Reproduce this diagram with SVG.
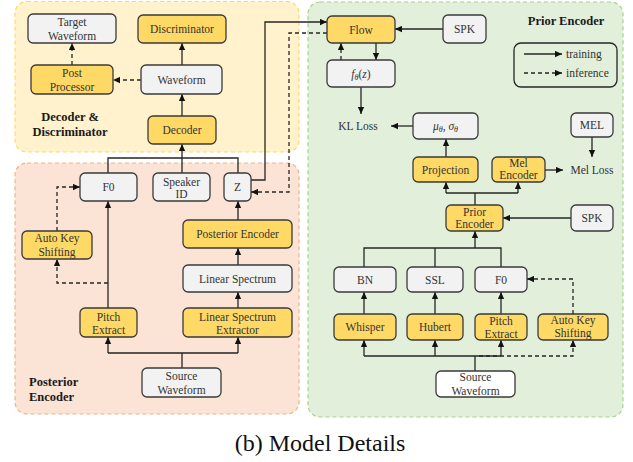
<svg xmlns="http://www.w3.org/2000/svg" width="633" height="462" viewBox="0 0 633 462">
<style>
text{font-family:"Liberation Serif","Times New Roman","DejaVu Serif",serif}
.t{font-size:11.5px;fill:#333;text-anchor:middle}
.s{font-size:11.5px;fill:#333;text-anchor:start}
.b{font-size:12.5px;font-weight:bold;fill:#1a1a1a}
.y{fill:#FFD966;stroke:#3a3a3a;stroke-width:1.3}
.g{fill:#F2F2F2;stroke:#3a3a3a;stroke-width:1.3}
.w{fill:#FFFFFF;stroke:#3a3a3a;stroke-width:1.3}
.c{fill:none;stroke:#262626;stroke-width:1.3}
.d{fill:none;stroke:#262626;stroke-width:1.3;stroke-dasharray:4,3}
</style>
<defs>
<marker id="a" viewBox="0 0 10 10" refX="10" refY="5" markerWidth="7" markerHeight="7" markerUnits="userSpaceOnUse" orient="auto">
<path d="M0,0.5 L10,5 L0,9.5 z" fill="#111"/>
</marker>
</defs>
<rect width="633" height="462" fill="#fff"/>
<g id="panels">
<rect x="15" y="1.5" width="284" height="150.5" rx="12" fill="#FFF2CC" stroke="#FFD966" stroke-width="1.2" stroke-dasharray="4,3"/>
<rect x="15" y="163" width="284" height="251" rx="12" fill="#FBE3D6" stroke="#F4B183" stroke-width="1.2" stroke-dasharray="4,3"/>
<rect x="308" y="2" width="315" height="415" rx="12" fill="#E2EFDA" stroke="#A9D18E" stroke-width="1.2" stroke-dasharray="4,3"/>
<text class="b" x="70" y="121" text-anchor="middle">Decoder &amp;</text>
<text class="b" x="70" y="136" text-anchor="middle">Discriminator</text>
<text class="b" x="29" y="386">Posterior</text>
<text class="b" x="29" y="401">Encoder</text>
<text class="b" x="566" y="25" text-anchor="middle">Prior Encoder</text>
</g>
<g id="connectors">
<path class="c" d="M182,65 V43" marker-end="url(#a)"/>
<path class="c" d="M182,116 V94" marker-end="url(#a)"/>
<path class="d" d="M141,80 H113" marker-end="url(#a)"/>
<path class="d" d="M72,65 V43" marker-end="url(#a)"/>
<path class="c" d="M182,173 V144" marker-end="url(#a)"/>
<path class="c" d="M108,173 V158 H238 V173"/>
<path class="c" d="M182,368 V353 M108,353 H238"/>
<path class="c" d="M108,353 V337" marker-end="url(#a)"/>
<path class="c" d="M238,353 V337" marker-end="url(#a)"/>
<path class="c" d="M108,308 V201" marker-end="url(#a)"/>
<path class="d" d="M108,283 H57 V259" marker-end="url(#a)"/>
<path class="d" d="M57,231 V187 H80" marker-end="url(#a)"/>
<path class="c" d="M238,308 V292" marker-end="url(#a)"/>
<path class="c" d="M238,265 V248" marker-end="url(#a)"/>
<path class="c" d="M238,220 V201" marker-end="url(#a)"/>
<path class="c" d="M251,180 H265 V22 H327" marker-end="url(#a)"/>
<path class="d" d="M327,33 H289 V192 H251" marker-end="url(#a)"/>
<path class="c" d="M443,29 H395" marker-end="url(#a)"/>
<path class="c" d="M376,43 V60" marker-end="url(#a)"/>
<path class="d" d="M341,60 V43" marker-end="url(#a)"/>
<path class="c" d="M361,87 V114" marker-end="url(#a)"/>
<path class="c" d="M413,126 H391" marker-end="url(#a)"/>
<path class="c" d="M592,137 V157" marker-end="url(#a)"/>
<path class="c" d="M545,170 H563" marker-end="url(#a)"/>
<path class="c" d="M446,157 V139" marker-end="url(#a)"/>
<path class="c" d="M475,205 V193 M446,193 H518"/>
<path class="c" d="M446,193 V182" marker-end="url(#a)"/>
<path class="c" d="M518,193 V182" marker-end="url(#a)"/>
<path class="c" d="M571,218 H503" marker-end="url(#a)"/>
<path class="c" d="M364,267 V248 H501 V267 M435,267 V248"/>
<path class="c" d="M475,248 V231" marker-end="url(#a)"/>
<path class="c" d="M364,314 V292" marker-end="url(#a)"/>
<path class="c" d="M435,314 V292" marker-end="url(#a)"/>
<path class="c" d="M501,314 V292" marker-end="url(#a)"/>
<path class="c" d="M475,371 V356 M364,356 H501"/>
<path class="c" d="M364,356 V340" marker-end="url(#a)"/>
<path class="c" d="M435,356 V340" marker-end="url(#a)"/>
<path class="c" d="M501,356 V340" marker-end="url(#a)"/>
<path class="d" d="M479,356 H573 V340" marker-end="url(#a)"/>
<path class="d" d="M573,314 V279 H527" marker-end="url(#a)"/>
</g>
<g id="target-waveform"><rect class="g" x="28" y="14" width="88" height="29" rx="5"/><text class="t" x="72" y="26">Target</text><text class="t" x="72" y="40">Waveform</text></g>
<g id="discriminator"><rect class="y" x="138" y="15" width="88" height="28" rx="5"/><text class="t" x="182" y="33">Discriminator</text></g>
<g id="post-processor"><rect class="y" x="31" y="65" width="82" height="29" rx="5"/><text class="t" x="72" y="77">Post</text><text class="t" x="72" y="91">Processor</text></g>
<g id="waveform"><rect class="g" x="141" y="65" width="81" height="29" rx="5"/><text class="t" x="181.5" y="84">Waveform</text></g>
<g id="decoder"><rect class="y" x="148" y="116" width="68" height="28" rx="5"/><text class="t" x="182" y="134">Decoder</text></g>
<g id="f0-post"><rect class="g" x="80" y="173" width="57" height="28" rx="5"/><text class="t" x="108.5" y="191">F0</text></g>
<g id="speaker-id"><rect class="g" x="153" y="173" width="57" height="28" rx="5"/><text class="t" x="181.5" y="186">Speaker</text><text class="t" x="181.5" y="198">ID</text></g>
<g id="z"><rect class="g" x="224" y="173" width="27" height="28" rx="5"/><text class="t" x="237.5" y="191">Z</text></g>
<g id="auto-key-post"><rect class="y" x="22" y="231" width="70" height="28" rx="5"/><text class="t" x="57" y="242">Auto Key</text><text class="t" x="57" y="256">Shifting</text></g>
<g id="posterior-encoder"><rect class="y" x="183" y="220" width="109" height="28" rx="5"/><text class="t" x="237.5" y="238">Posterior Encoder</text></g>
<g id="linear-spectrum"><rect class="g" x="183" y="265" width="109" height="27" rx="5"/><text class="t" x="237.5" y="282.5">Linear Spectrum</text></g>
<g id="pitch-extract-post"><rect class="y" x="80" y="308" width="57" height="29" rx="5"/><text class="t" x="108.5" y="321">Pitch</text><text class="t" x="108.5" y="334">Extract</text></g>
<g id="lse"><rect class="y" x="183" y="308" width="109" height="29" rx="5"/><text class="t" x="237.5" y="321">Linear Spectrum</text><text class="t" x="237.5" y="334">Extractor</text></g>
<g id="source-post"><rect class="g" x="142" y="368" width="79" height="29" rx="5"/><text class="t" x="181.5" y="380">Source</text><text class="t" x="181.5" y="394">Waveform</text></g>
<g id="flow"><rect class="y" x="327" y="16" width="68" height="27" rx="5"/><text class="t" x="361" y="33.5">Flow</text></g>
<g id="spk1"><rect class="g" x="443" y="15" width="43" height="28" rx="5"/><text class="t" x="464.5" y="33">SPK</text></g>
<g id="ftheta"><rect class="g" x="327" y="60" width="68" height="27" rx="5"/><text class="t" x="361" y="77.5"><tspan font-style="italic">f</tspan><tspan font-style="italic" font-size="8" dy="2">θ</tspan><tspan dy="-2">(</tspan><tspan font-style="italic">z</tspan>)</text></g>
<g id="kl-loss"><text class="t" x="358" y="130">KL Loss</text></g>
<g id="legend"><rect x="514" y="43" width="103" height="44" rx="7" fill="none" stroke="#262626" stroke-width="1.3"/><path class="c" d="M524,54 H562" marker-end="url(#a)"/><path class="d" d="M524,73 H562" stroke-dasharray="3,2" marker-end="url(#a)"/><text class="s" x="566" y="58">training</text><text class="s" x="566" y="77">inference</text></g>
<g id="mu-sigma"><rect class="g" x="413" y="113" width="65" height="26" rx="5"/><text class="t" x="445.5" y="130"><tspan font-style="italic">μ</tspan><tspan font-style="italic" font-size="8" dy="2">θ</tspan><tspan dy="-2">, </tspan><tspan font-style="italic">σ</tspan><tspan font-style="italic" font-size="8" dy="2">θ</tspan></text></g>
<g id="mel"><rect class="g" x="571" y="113" width="42" height="24" rx="5"/><text class="t" x="592" y="129">MEL</text></g>
<g id="projection"><rect class="y" x="413" y="157" width="65" height="25" rx="5"/><text class="t" x="445.5" y="173.5">Projection</text></g>
<g id="mel-encoder"><rect class="y" x="492" y="157" width="53" height="25" rx="5"/><text class="t" x="518.5" y="167">Mel</text><text class="t" x="518.5" y="179">Encoder</text></g>
<g id="mel-loss"><text class="t" x="592" y="174">Mel Loss</text></g>
<g id="prior-encoder"><rect class="y" x="446" y="205" width="57" height="26" rx="5"/><text class="t" x="474.5" y="216">Prior</text><text class="t" x="474.5" y="228">Encoder</text></g>
<g id="spk2"><rect class="g" x="571" y="205" width="42" height="26" rx="5"/><text class="t" x="592" y="222">SPK</text></g>
<g id="bn"><rect class="g" x="334" y="267" width="62" height="25" rx="5"/><text class="t" x="365" y="283.5">BN</text></g>
<g id="ssl"><rect class="g" x="407" y="267" width="56" height="25" rx="5"/><text class="t" x="435" y="283.5">SSL</text></g>
<g id="f0-prior"><rect class="g" x="475" y="267" width="52" height="25" rx="5"/><text class="t" x="501" y="283.5">F0</text></g>
<g id="whisper"><rect class="y" x="334" y="314" width="62" height="26" rx="5"/><text class="t" x="365" y="331">Whisper</text></g>
<g id="hubert"><rect class="y" x="407" y="314" width="56" height="26" rx="5"/><text class="t" x="435" y="331">Hubert</text></g>
<g id="pitch-extract-prior"><rect class="y" x="475" y="314" width="52" height="26" rx="5"/><text class="t" x="501" y="325">Pitch</text><text class="t" x="501" y="338">Extract</text></g>
<g id="auto-key-prior"><rect class="y" x="538" y="314" width="70" height="26" rx="5"/><text class="t" x="573" y="324">Auto Key</text><text class="t" x="573" y="337">Shifting</text></g>
<g id="source-prior"><rect class="w" x="436" y="371" width="79" height="26" rx="5"/><text class="t" x="475.5" y="381">Source</text><text class="t" x="475.5" y="395">Waveform</text></g>
<text x="320" y="451" font-size="24" text-anchor="middle" fill="#111">(b) Model Details</text>
</svg>
